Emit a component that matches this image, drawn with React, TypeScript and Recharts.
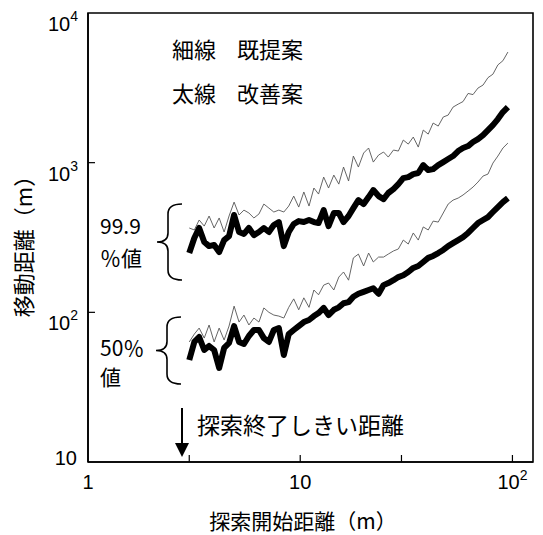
import React from 'react';
import { LineChart, Line, XAxis, YAxis, Customized, ReferenceArea } from 'recharts';

// search start distance (m)
const xs = [3.0, 3.17, 3.34, 3.53, 3.72, 3.93, 4.15, 4.38, 4.62, 4.88, 5.15, 5.43, 5.73, 6.05, 6.39, 6.74, 7.12, 7.51, 7.93, 8.37, 8.83, 9.32, 9.84, 10.4, 11.0, 11.6, 12.2, 12.9, 13.6, 14.4, 15.2, 16.0, 16.9, 17.8, 18.8, 19.9, 21.0, 22.1, 23.4, 24.7, 26.0, 27.5, 29.0, 30.6, 32.3, 34.1, 36.0, 38.0, 40.1, 42.3, 44.7, 47.2, 49.8, 52.5, 55.5, 58.5, 61.8, 65.2, 68.8, 72.7, 76.7, 80.9, 85.4, 90.2, 95.2];

// 99.9% value, existing proposal (thin line)
const thin999 = [366, 355, 414, 377, 440, 366, 427, 344, 440, 545, 447, 482, 461, 427, 454, 529, 497, 468, 482, 468, 513, 598, 505, 637, 513, 677, 617, 801, 677, 826, 719, 935, 754, 1107, 935, 1160, 1253, 1009, 1124, 1178, 1090, 1214, 1196, 1416, 1331, 1483, 1271, 1651, 1552, 1840, 1756, 2018, 2080, 2351, 2461, 2560, 2900, 2850, 3150, 3300, 3700, 3900, 4500, 4800, 5483];
// 99.9% value, improved proposal (thick line)
const thick999 = [249, 314, 366, 295, 277, 282, 253, 304, 323, 447, 344, 334, 366, 328, 344, 366, 344, 383, 401, 277, 344, 389, 407, 401, 414, 401, 395, 482, 377, 461, 461, 401, 440, 497, 562, 529, 589, 656, 598, 571, 627, 666, 719, 789, 801, 839, 853, 964, 893, 906, 964, 1009, 1057, 1107, 1196, 1253, 1291, 1374, 1438, 1528, 1651, 1783, 1955, 2178, 2351];
// 50% value, existing proposal (thin line)
const thin50 = [63.4, 71.6, 78.5, 67.3, 82.3, 63.4, 78.5, 65.3, 81.0, 110, 86.1, 95.9, 82.3, 91.6, 86.1, 107, 100, 95.9, 94.4, 91.6, 108, 123, 104, 125, 108, 141, 131, 152, 157, 141, 172, 186, 164, 231, 245, 204, 249, 217, 234, 234, 245, 257, 265, 304, 286, 339, 304, 372, 355, 407, 401, 461, 529, 562, 580, 608, 646, 687, 742, 814, 839, 993, 1107, 1253, 1352];
// 50% value, improved proposal (thick line)
const thick50 = [48.0, 63.4, 68.4, 56.0, 59.6, 56.0, 42.5, 57.8, 62.4, 81.0, 63.4, 61.4, 69.5, 76.2, 76.2, 67.3, 63.4, 76.2, 78.5, 51.9, 71.6, 76.2, 81.0, 86.1, 88.9, 94.4, 98.9, 107, 95.9, 104, 108, 115, 117, 127, 133, 137, 141, 145, 133, 152, 157, 164, 172, 177, 186, 198, 204, 217, 231, 238, 249, 261, 277, 290, 304, 318, 339, 366, 395, 414, 433, 468, 505, 545, 580];

const xDomain = [1, 125];
const yDomain = [10, 10000];
const xTicks = [1, 3, 10, 30, 100];
const yTicks = [10, 100, 1000, 10000];

const data = xs.map((x, i) => ({
  x,
  thin999: thin999[i],
  thick999: thick999[i],
  thin50: thin50[i],
  thick50: thick50[i],
}));

const NUM_FONT = '"Liberation Sans", Arial, sans-serif';
const JP_FONT = '"Noto Sans CJK JP", "Noto Sans CJK SC", sans-serif';

const XTick = (props: any) => {
  const { x, y, payload } = props;
  const v = payload.value;
  let label: React.ReactNode = null;
  if (v === 1) label = '1';
  else if (v === 10) label = '10';
  else if (v === 100)
    label = (
      <>
        10<tspan dy={-9} fontSize={14}>2</tspan>
      </>
    );
  return (
    <g>
      {v !== 1 && <line x1={x} x2={x} y1={y} y2={y - 7} stroke="#000" strokeWidth={1.2} />}
      {label !== null && (
        <text x={x} y={y + 27} textAnchor="middle" fontSize={20} fontFamily={NUM_FONT} fill="#000">
          {label}
        </text>
      )}
    </g>
  );
};

const YTick = (props: any) => {
  const { x, y, payload } = props;
  const v = payload.value;
  const exp = Math.round(Math.log10(v));
  return (
    <g>
      {(v === 100 || v === 1000) && <line x1={x} x2={x + 7} y1={y} y2={y} stroke="#000" strokeWidth={1.2} />}
      {exp === 1 ? (
        <text x={x - 11} y={y + 3} textAnchor="end" fontSize={20} fontFamily={NUM_FONT} fill="#000">
          10
        </text>
      ) : (
        <text x={x - 10} y={y + 18} textAnchor="end" fontSize={20} fontFamily={NUM_FONT} fill="#000">
          10<tspan dy={-10} fontSize={14}>{exp}</tspan>
        </text>
      )}
    </g>
  );
};

const bracePath = (xr: number, xm: number, xt: number, y0: number, y1: number) => {
  const ym = (y0 + y1) / 2;
  return `M${xr},${y0} Q${xm},${y0} ${xm},${y0 + 10} L${xm},${ym - 9} Q${xm},${ym} ${xt},${ym} Q${xm},${ym} ${xm},${ym + 9} L${xm},${y1 - 10} Q${xm},${y1} ${xr},${y1}`;
};

const Annotations = () => (
  <g>
    <text x={172} y={58} fontSize={22} fontFamily={JP_FONT} fill="#000">細線</text>
    <text x={237} y={58} fontSize={22} fontFamily={JP_FONT} fill="#000">既提案</text>
    <text x={172} y={102} fontSize={22} fontFamily={JP_FONT} fill="#000">太線</text>
    <text x={237} y={102} fontSize={22} fontFamily={JP_FONT} fill="#000">改善案</text>

    <text x={100} y={234} fontSize={21} fontFamily={JP_FONT} fill="#000">99.9</text>
    <text x={100} y={266} fontSize={21} fontFamily={JP_FONT} fill="#000">％値</text>
    <path d={bracePath(182, 168, 157, 204, 280)} fill="none" stroke="#000" strokeWidth={1.6} />

    <text x={100} y={356} fontSize={21} fontFamily={JP_FONT} fill="#000">50％</text>
    <text x={100} y={385} fontSize={21} fontFamily={JP_FONT} fill="#000">値</text>
    <path d={bracePath(181, 167, 156, 317, 384)} fill="none" stroke="#000" strokeWidth={1.6} />

    <line x1={182} x2={182} y1={408} y2={446} stroke="#000" strokeWidth={2} />
    <path d="M175,443 L189,443 L182,457 Z" fill="#000" />
    <text x={197} y={434} fontSize={23} fontFamily={JP_FONT} fill="#000">探索終了しきい距離</text>

    <text x={303} y={529} textAnchor="middle" fontSize={21} fontFamily={JP_FONT} fill="#000">探索開始距離（m）</text>
    <text
      x={22}
      y={241}
      textAnchor="middle"
      dominantBaseline="central"
      fontSize={22}
      fontFamily={JP_FONT}
      fill="#000"
      transform="rotate(-90 22 241)"
    >
      移動距離（m）
    </text>
  </g>
);

export default function App() {
  return (
    <div style={{ position: 'absolute', left: 0, top: 0, width: 543, height: 535, background: '#fff' }}>
      <LineChart width={543} height={535} data={data} margin={{ top: 13, right: 10, bottom: 0, left: 0 }}>
        <XAxis
          dataKey="x"
          type="number"
          scale="log"
          domain={xDomain}
          allowDataOverflow
          ticks={xTicks}
          interval={0}
          height={73}
          tickSize={0}
          tickMargin={0}
          tickLine={false}
          axisLine={{ stroke: '#000', strokeWidth: 1.6 }}
          tick={<XTick />}
        />
        <YAxis
          type="number"
          scale="log"
          domain={yDomain}
          allowDataOverflow
          ticks={yTicks}
          interval={0}
          width={88}
          tickSize={0}
          tickMargin={0}
          tickLine={false}
          axisLine={{ stroke: '#000', strokeWidth: 1.6 }}
          tick={<YTick />}
        />
        <ReferenceArea
          x1={xDomain[0]}
          x2={xDomain[1]}
          y1={yDomain[0]}
          y2={yDomain[1]}
          fill="none"
          fillOpacity={0}
          stroke="#000"
          strokeWidth={1.6}
          ifOverflow="visible"
        />
        <Line dataKey="thin999" stroke="#555" strokeWidth={0.9} dot={false} isAnimationActive={false} />
        <Line dataKey="thin50" stroke="#555" strokeWidth={0.9} dot={false} isAnimationActive={false} />
        <Line dataKey="thick999" stroke="#000" strokeWidth={6} strokeLinejoin="round" dot={false} isAnimationActive={false} />
        <Line dataKey="thick50" stroke="#000" strokeWidth={6} strokeLinejoin="round" dot={false} isAnimationActive={false} />
        <Customized component={Annotations} />
      </LineChart>
    </div>
  );
}
